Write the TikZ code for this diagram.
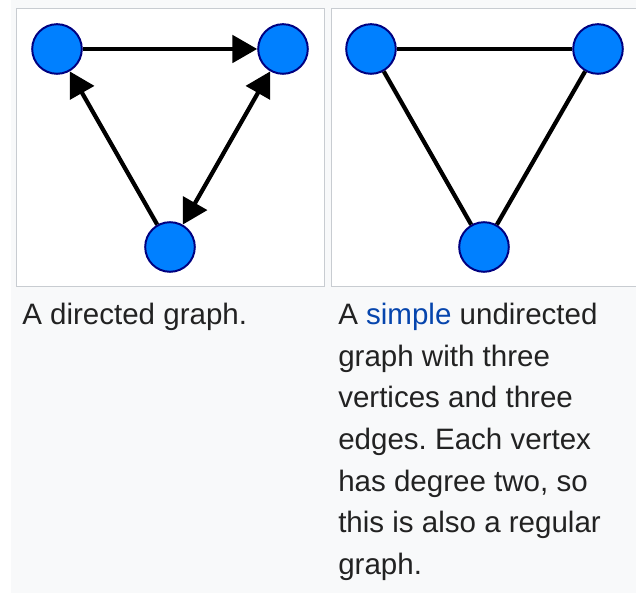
\documentclass[tikz,border=0pt]{standalone}
\usepackage{xcolor}
\usepackage{fontspec}
\setmainfont{Liberation Sans}
\usetikzlibrary{arrows.meta}

\definecolor{vfill}{HTML}{0080FF}
\definecolor{vline}{HTML}{000080}
\definecolor{pagebg}{HTML}{F8F9FA}
\definecolor{frame}{HTML}{C8CCD1}
\definecolor{capt}{HTML}{222222}
\definecolor{wlink}{HTML}{0645AD}

\begin{document}
\frenchspacing
\begin{tikzpicture}[
        vertex/.style={circle, draw=vline, fill=vfill, line width=1.4pt,
                       minimum size=1.24cm, inner sep=0pt},
        link/.style={line width=3pt},
        panel/.style={draw=frame, fill=white, line width=0.7pt},
        caption/.style={anchor=north west, align=left, inner sep=0pt, text=capt,
                        font=\fontsize{21}{29.6}\selectfont},
        >={Triangle[length=0.62cm, width=0.68cm]},
    ]
        \useasboundingbox (0,0) rectangle (15.9,14.875);
        \fill[pagebg] (0.275,0.05) rectangle (15.9,14.875);

        % Frames
        \draw[panel] (0.4,7.7) rectangle (8.1,14.65);
        \draw[panel] (8.275,7.7) rectangle (16.3,14.65);

        % Left: directed graph
        \node[vertex] (da) at (1.425, 13.65) {};
        \node[vertex] (db) at (7.075, 13.65) {};
        \node[vertex] (dc) at (4.25,  8.7)   {};

        \draw[link, ->]  (da) -- (db);
        \draw[link, ->]  (dc) -- (da);
        \draw[link, <->] (db) -- (dc);

        % Right: simple undirected graph
        \node[vertex] (ua) at (9.275, 13.65) {};
        \node[vertex] (ub) at (14.95, 13.65) {};
        \node[vertex] (uc) at (12.1,  8.7)   {};

        \draw[link] (ua) -- (ub);
        \draw[link] (ua) -- (uc);
        \draw[link] (ub) -- (uc);

        % Captions
        \node[caption] (capl) at (0.55, 7.3) {A directed graph.};
        \node[caption] (capr) at (8.45, 7.3) {A \textcolor{wlink}{simple} undirected\\
            graph with three\\vertices and three\\edges. Each vertex\\
            has degree two, so\\this is also a regular\\graph.};
    \end{tikzpicture}
\end{document}
